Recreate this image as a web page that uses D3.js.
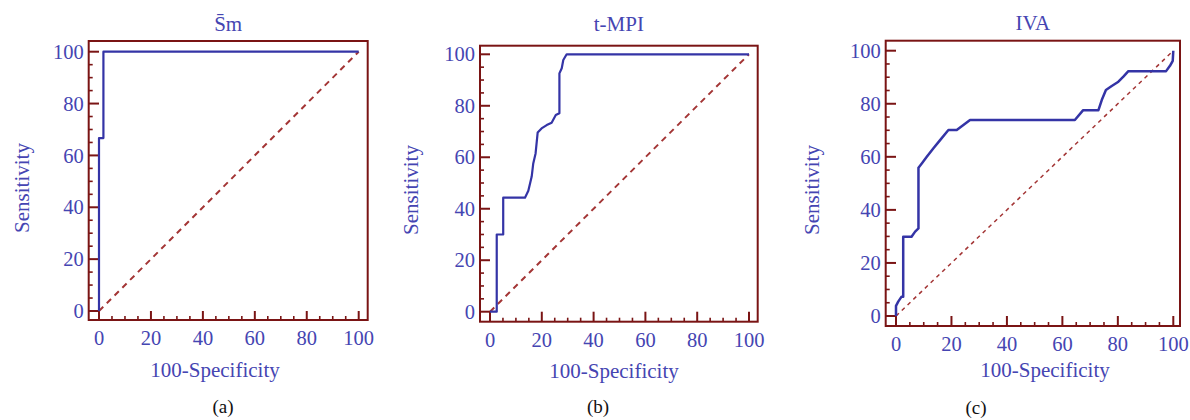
<!DOCTYPE html>
<html>
<head>
<meta charset="utf-8">
<script src="https://cdn.jsdelivr.net/npm/d3@7"></script>
<style>
  body { margin: 0; background: #fff; }
  svg { display: block; }
  text { font-family: "Liberation Serif", "Times New Roman", serif; }
</style>
</head>
<body>
<svg id="chart" width="1190" height="420"></svg>
<script>
// ROC data (100-Specificity, Sensitivity)
const smFpr = [0, 0, 1.7, 1.7, 100]
const smTpr = [0, 66.7, 66.7, 100, 100]

const tmpiFpr = [0, 2.6, 2.6, 5.1, 5.1, 13.5, 14.8, 16.1, 16.7, 17.6, 18.4, 19.9, 21.9, 23.8, 25.4, 26.8, 26.8, 27.7, 28.3, 29.6, 100]
const tmpiTpr = [0, 0, 30, 30, 44.3, 44.3, 47, 52.5, 57.6, 61.5, 69.6, 71.2, 72.5, 73.4, 76.4, 77.1, 92.6, 94.6, 97.8, 100, 100]

const ivaFpr = [0, 0, 0.8, 2, 2.6, 2.6, 5.6, 6.9, 8.1, 8.1, 9.3, 11.1, 13.5, 15.9, 18.9, 21.9, 24.3, 26.7, 64.5, 67.5, 73, 74.2, 75.7, 77.8, 80.2, 82, 83.8, 97.4, 98.8, 99.8, 100]
const ivaTpr = [0, 3.8, 5.4, 7.3, 7.3, 29.9, 29.9, 31.8, 33, 55.9, 57.5, 60, 63.2, 66.3, 70.1, 70.1, 72, 73.9, 73.9, 77.6, 77.6, 81.4, 85.2, 86.7, 88.3, 90.2, 92.3, 92.3, 94.3, 96.2, 100]

const titles = ["S\u0304m", "t-MPI", "IVA"]
const captions = ["(a)", "(b)", "(c)"]
const majorTicks = [0, 20, 40, 60, 80, 100]
const minorTicks = d3.range(5, 100, 5).filter(v => v % 20 !== 0)
const xTitle = "100-Specificity"
const yTitle = "Sensitivity"

// pixel layout of each panel (position of 0 and 100 on each axis, frame, texts)
const panels = [
  { fpr: smFpr, tpr: smTpr, x0: 99, x1: 358.7, y0: 311, y1: 51.7,
    frame: [88.7, 41, 367.7, 320], titleY: 31, xLabelX: 215, xLabelY: 377,
    yLabelX: 29, yLabelY: 188, capX: 223, capY: 413, dash: "6,5", dashW: 2, lineW: 2.2 },
  { fpr: tmpiFpr, tpr: tmpiTpr, x0: 490, x1: 749, y0: 311.7, y1: 54.3,
    frame: [480, 45.7, 757.7, 321.7], titleY: 31, xLabelX: 614, xLabelY: 378,
    yLabelX: 418, yLabelY: 190, capX: 598, capY: 413, dash: "6,5", dashW: 2, lineW: 2.2 },
  { fpr: ivaFpr, tpr: ivaTpr, x0: 896, x1: 1173.3, y0: 316, y1: 50.7,
    frame: [885.7, 40.7, 1180, 326], titleY: 30, xLabelX: 1045, xLabelY: 377,
    yLabelX: 819, yLabelY: 190, capX: 976, capY: 414, dash: "4,4", dashW: 1.5, lineW: 2.5 }
]

const blue = "#3434a6"
const textBlue = "#4545b2"
const frameRed = "#7a1414"
const diagRed = "#a33535"

const svg = d3.select("#chart")

panels.forEach((p, i) => {
  const x = d3.scaleLinear().domain([0, 100]).range([p.x0, p.x1])
  const y = d3.scaleLinear().domain([0, 100]).range([p.y0, p.y1])
  const [fl, ft, fr, fb] = p.frame
  const g = svg.append("g").attr("class", "panel")

  // frame
  g.append("rect")
    .attr("x", fl).attr("y", ft)
    .attr("width", fr - fl).attr("height", fb - ft)
    .attr("fill", "none")
    .attr("stroke", frameRed)
    .attr("stroke-width", 2)

  // y ticks (inside, from left frame)
  g.selectAll(".ymaj").data(majorTicks).enter().append("line")
    .attr("x1", fl).attr("x2", x(0))
    .attr("y1", d => y(d)).attr("y2", d => y(d))
    .attr("stroke", frameRed).attr("stroke-width", 2)
  g.selectAll(".ymin").data(minorTicks).enter().append("line")
    .attr("x1", fl).attr("x2", fl + 4)
    .attr("y1", d => y(d)).attr("y2", d => y(d))
    .attr("stroke", frameRed).attr("stroke-width", 1.6)

  // x ticks (inside, from bottom frame)
  g.selectAll(".xmaj").data(majorTicks).enter().append("line")
    .attr("x1", d => x(d)).attr("x2", d => x(d))
    .attr("y1", fb).attr("y2", y(0))
    .attr("stroke", frameRed).attr("stroke-width", 2)
  g.selectAll(".xmin").data(minorTicks).enter().append("line")
    .attr("x1", d => x(d)).attr("x2", d => x(d))
    .attr("y1", fb).attr("y2", fb - 4)
    .attr("stroke", frameRed).attr("stroke-width", 1.6)

  // tick labels
  g.selectAll(".ylab").data(majorTicks).enter().append("text")
    .attr("x", fl - 5).attr("y", d => y(d))
    .attr("dy", "0.35em")
    .attr("text-anchor", "end")
    .attr("font-size", 20.5)
    .attr("fill", textBlue)
    .text(d => d)
  g.selectAll(".xlab").data(majorTicks).enter().append("text")
    .attr("x", d => x(d)).attr("y", fb + 25)
    .attr("text-anchor", "middle")
    .attr("font-size", 20.5)
    .attr("fill", textBlue)
    .text(d => d)

  // reference diagonal
  g.append("line")
    .attr("x1", x(0)).attr("y1", y(0))
    .attr("x2", x(100)).attr("y2", y(100))
    .attr("stroke", diagRed)
    .attr("stroke-width", p.dashW)
    .attr("stroke-dasharray", p.dash)

  // ROC curve
  const pts = p.fpr.map((v, k) => [v, p.tpr[k]])
  const line = d3.line().x(d => x(d[0])).y(d => y(d[1]))
  g.append("path")
    .attr("d", line(pts))
    .attr("fill", "none")
    .attr("stroke", blue)
    .attr("stroke-width", p.lineW)
    .attr("stroke-linejoin", "round")

  // titles and labels
  g.append("text")
    .attr("x", (fl + fr) / 2).attr("y", p.titleY)
    .attr("text-anchor", "middle")
    .attr("font-size", 21)
    .attr("fill", textBlue)
    .text(titles[i])
  g.append("text")
    .attr("x", p.xLabelX).attr("y", p.xLabelY)
    .attr("text-anchor", "middle")
    .attr("font-size", 21)
    .attr("fill", textBlue)
    .text(xTitle)
  g.append("text")
    .attr("transform", `translate(${p.yLabelX},${p.yLabelY}) rotate(-90)`)
    .attr("text-anchor", "middle")
    .attr("font-size", 21)
    .attr("fill", textBlue)
    .text(yTitle)
  g.append("text")
    .attr("x", p.capX).attr("y", p.capY)
    .attr("text-anchor", "middle")
    .attr("font-size", 19)
    .attr("fill", "#111")
    .text(captions[i])
})
</script>
</body>
</html>
